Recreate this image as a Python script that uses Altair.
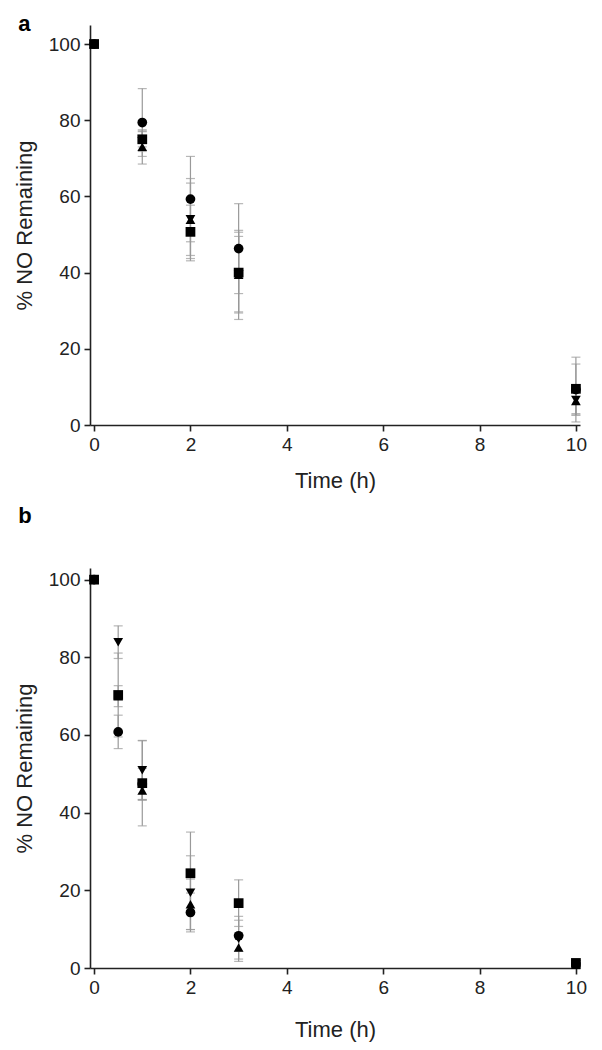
import altair as alt
import pandas as pd

# ---------------- data ----------------
series_names = ["circle", "square", "triangle-up", "triangle-down"]

# Panel a
times_a = [0, 1, 2, 3, 10]
mean_a_circle = [100, 79.4, 59.3, 46.3, 9.3]
sd_a_circle = [0, 8.9, 11.2, 11.8, 8.5]
mean_a_square = [100, 75.0, 50.7, 40.0, 9.5]
sd_a_square = [0, 2.0, 7.0, 10.6, 6.5]
mean_a_tup = [100, 73.0, 53.9, 39.4, 6.3]
sd_a_tup = [0, 4.5, 10.8, 11.7, 3.7]
mean_a_tdown = [100, 74.5, 54.0, 39.6, 6.6]
sd_a_tdown = [0, 2.7, 9.5, 9.9, 4.0]

# Panel b
times_b = [0, 0.5, 1, 2, 3, 10]
mean_b_circle = [100, 60.8, 47.4, 14.3, 8.3, 1.0]
sd_b_circle = [0, 4.3, 4.0, 5.0, 4.0, 0.5]
mean_b_square = [100, 70.3, 47.6, 24.4, 16.7, 1.3]
sd_b_square = [0, 10.8, 11.0, 10.6, 6.0, 0.8]
mean_b_tup = [100, 70.0, 45.7, 16.4, 5.3, 0.8]
sd_b_tup = [0, 2.7, 2.5, 6.5, 3.0, 0.5]
mean_b_tdown = [100, 83.9, 50.9, 19.4, 7.5, 0.9]
sd_b_tdown = [0, 4.2, 7.6, 9.5, 5.8, 0.5]

x_ticks = [0, 2, 4, 6, 8, 10]
y_ticks = [0, 20, 40, 60, 80, 100]


def build_df(times, means, sds):
    rows = []
    for name, m, s in zip(series_names, means, sds):
        for t, mv, sv in zip(times, m, s):
            rows.append({"time": t, "series": name, "mean": mv,
                         "lo": mv - sv, "hi": mv + sv, "sd": sv})
    return pd.DataFrame(rows)


df_a = build_df(times_a,
                [mean_a_circle, mean_a_square, mean_a_tup, mean_a_tdown],
                [sd_a_circle, sd_a_square, sd_a_tup, sd_a_tdown])
df_b = build_df(times_b,
                [mean_b_circle, mean_b_square, mean_b_tup, mean_b_tdown],
                [sd_b_circle, sd_b_square, sd_b_tup, sd_b_tdown])

ERR = "#999999"


def panel(df, ymax, label, t_offset, t_dy, x_title_pad):
    base = alt.Chart(df)
    xenc = alt.X("time:Q",
                 scale=alt.Scale(domain=[-0.085, 10.085], nice=False, zero=False),
                 axis=alt.Axis(values=x_ticks, title="Time (h)", format="d",
                               titlePadding=x_title_pad))
    yscale = alt.Scale(domain=[0, ymax], nice=False)
    yax = alt.Axis(values=y_ticks, title="% NO Remaining", format="d")
    err = base.transform_filter("datum.sd > 0")
    rules = err.mark_rule(color=ERR, strokeWidth=1.2).encode(
        x=xenc, y=alt.Y("lo:Q", scale=yscale, axis=yax), y2="hi:Q")
    cap_hi = err.mark_tick(color=ERR, orient="horizontal", size=9, thickness=1.2).encode(
        x=xenc, y=alt.Y("hi:Q", scale=yscale, axis=yax))
    cap_lo = err.mark_tick(color=ERR, orient="horizontal", size=9, thickness=1.2).encode(
        x=xenc, y=alt.Y("lo:Q", scale=yscale, axis=yax))
    pts = base.mark_point(filled=True, color="black", size=95, opacity=1).encode(
        x=xenc,
        y=alt.Y("mean:Q", scale=yscale, axis=yax),
        shape=alt.Shape("series:N",
                        scale=alt.Scale(domain=series_names,
                                        range=["circle", "square", "triangle-up", "triangle-down"]),
                        legend=None),
    )
    return alt.layer(rules, cap_hi, cap_lo, pts).properties(
        width=490, height=400,
        title=alt.TitleParams(label, anchor="start", frame="bounds",
                              fontSize=22, fontWeight="bold", font="Liberation Sans",
                              color="black", offset=t_offset, dx=5, dy=t_dy),
    )


chart = alt.vconcat(
    panel(df_a, 105, "a", -19, -8, 16),
    panel(df_b, 103, "b", 40, 0, 22),
    spacing=14,
).configure_view(
    stroke=None
).configure_axis(
    grid=False,
    domainColor="#222222",
    domainWidth=1.6,
    tickColor="#222222",
    tickWidth=1.6,
    tickSize=6,
    labelFont="Liberation Sans",
    labelFontSize=19,
    labelColor="#222222",
    labelPadding=4,
    titleFont="Liberation Sans",
    titleFontSize=22,
    titleFontWeight="normal",
    titleColor="#222222",
).configure_axisY(titlePadding=12)

chart.save("out.html", embed_options={"renderer": "svg", "actions": False})
